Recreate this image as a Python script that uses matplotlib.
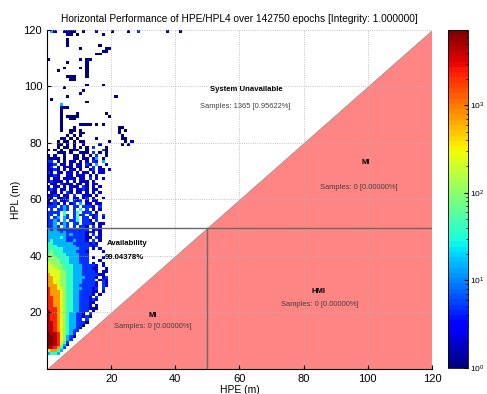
import numpy as np
import matplotlib
matplotlib.use('Agg')
import matplotlib.pyplot as plt
from matplotlib.colors import LogNorm

plt.rcParams['font.family'] = ['Liberation Sans', 'DejaVu Sans']

title = 'Horizontal Performance of HPE/HPL4 over 142750 epochs [Integrity: 1.000000]'
alert_limit = 50
axis_max = 120
ticks = [20, 40, 60, 80, 100, 120]

# level code -> epoch count per 1m x 1m cell ('.' = empty)
level_codes = '0123456789a'
level_counts = [1, 2, 5, 15, 40, 100, 250, 700, 2200, 4500, 7000]

# histogram rows, key = HPL bin (m), string index = HPE bin (m)
hist_rows = {
    119: ".31..0100..0...1....0....0..2........1...0",
    118: "......00.0.......0",
    116: "......0",
    115: "......0",
    114: "......0.........0",
    113: "..........0.......00",
    112: ".................00",
    111: "...............00",
    109: "0.........0.00",
    108: "......0.....0",
    107: "............0",
    106: ".....0....0.0",
    105: "...0........0",
    104: "............0",
    103: "......000...0",
    102: ".......00",
    100: "............0....0",
    99: ".....0",
    98: "...........0",
    97: "..........0",
    96: "......0..............0",
    95: ".0",
    94: "............0",
    93: "....3",
    92: "....100",
    91: "....0",
    90: "....0....0........0",
    89: "....0.0000.........0",
    88: "....0..00",
    87: "....0",
    86: "....0.....0000.0.0",
    85: "....0...0.............00",
    84: "....0..00.0...........0.0",
    83: ".......0..00..........0",
    82: "......0.0.0............0",
    81: "....00.0.0.....0.......00",
    80: "...0.00.0.00.......0....0.1",
    79: "...00.0.0..0....1......0.0",
    78: "...0.00.1.0.0.2...0",
    77: "0.0.0..010..0....20",
    76: "...000.0..100.2.0.0",
    75: "0.1..0..00.0.1.2..0",
    74: "1010.0..10.01.13.0",
    73: "22.1.1.11.1.1.21.3",
    72: "112.11.1.11.21.3..1",
    71: "12.1.111.11.1.2.1",
    70: "1121.1.11.1..12.11.1",
    69: "21.11.11.1.11.1.11",
    68: "1121..11.111.1.1",
    67: "1.11.1111.11.2.1.1",
    66: "12111.1.1.111.1",
    65: ".11.2111.11.1.11",
    64: "1.11.1.111.21.1.1",
    63: "121.11.1.1121.11",
    62: ".11.1.21.11.1.1.1",
    61: "1121.11.2..111.1",
    60: "21.1121.11.12.1..1",
    59: "1.2.112.212.1.11",
    58: "1121.1.12.3.11.11",
    57: "222.232.22.2221.2",
    56: ".2.2232.2.4.2.1.1",
    55: "2222.4..24.222.1",
    54: "22.2.42.2522.212.2",
    53: "2.23.32.24.22.12.1",
    52: "2232.3.224.221.2",
    51: "223.232.22.2221.11",
    50: "2232.32.2.221.2.1",
    49: "3232222222222.121",
    48: "333323222222121.1",
    47: "3333332322221.2.1",
    46: "33334322222211.21",
    45: "3433332232221.2.1",
    44: "4433333322222121",
    43: "4443333332222212",
    42: "4444433333222.1.1",
    41: "4544433332221....1",
    40: "5544443333222",
    39: "5554444333222.1..1",
    38: "5555444333222...1",
    37: "6555444333222.1..1",
    36: "6655544433322221.1",
    35: "6665544433322211..1",
    34: "6666554433322221.11",
    33: "766655443332222211",
    32: "7766554433332221.12",
    31: "776655443332222.121",
    30: "7766554433322221.21",
    29: "7776554433222221.21",
    28: "8776654433322212.2",
    27: "8777654433222211.1",
    26: "877765443322221.1",
    25: "88776544332221.2",
    24: "8877654433222121",
    23: "887765443322211",
    22: "88776544332221.1",
    21: "8887654433222110",
    20: "9887654433222.1",
    19: "988765433221.2",
    18: "98876543322120",
    17: "98876543322.2",
    16: "9987654332220",
    15: "998765433220",
    14: "99876543321",
    13: "9987654322",
    12: "a99865432",
    11: "aa9865321",
    10: "aa986532",
    9: "aa98642",
    8: "aa98531",
    7: "998742",
    6: "67743",
    5: "3443",
}

regions = [
    # (label, sample text, label pos, text pos)
    ('System Unavailable', 'Samples: 1365 [0.95622%]', (62, 98.9), (61.7, 92.9)),
    ('MI', 'Samples: 0 [0.00000%]', (99.4, 73.0), (97.2, 64.2)),
    ('MI', 'Samples: 0 [0.00000%]', (33.1, 18.8), (33.1, 14.9)),
    ('HMI', 'Samples: 0 [0.00000%]', (84.7, 27.3), (85.0, 22.7)),
]
availability = '99.04378%'

# build count grid
ncols = max(len(s) for s in hist_rows.values())
counts = np.zeros((axis_max, ncols))
for hpl, row in hist_rows.items():
    for i, ch in enumerate(row):
        if ch != '.':
            counts[hpl, i] = level_counts[level_codes.index(ch)]
counts = np.ma.masked_equal(counts, 0)

fig = plt.figure(figsize=(4.87, 3.94), dpi=100)
ax = fig.add_axes([0.0965, 0.0635, 0.7905, 0.8605])
cax = fig.add_axes([0.920, 0.066, 0.041, 0.858])

x_edges = np.arange(ncols + 1)
y_edges = np.arange(axis_max + 1)
cmap = plt.get_cmap('jet', 64)
mesh = ax.pcolormesh(x_edges, y_edges, counts, cmap=cmap,
                     norm=LogNorm(vmin=1, vmax=7250), zorder=2)

# integrity regions
ax.fill([0, axis_max, axis_max], [0, 0, axis_max], color='#ff8585',
        edgecolor='#909090', linewidth=0.5, zorder=1)
ax.plot([0, axis_max], [alert_limit, alert_limit], color='#6a6a6a', lw=1.0, zorder=3)
ax.plot([alert_limit, alert_limit], [0, alert_limit], color='#6a6a6a', lw=1.0, zorder=3)

for lab, txt, lp, tp in regions:
    ax.text(lp[0], lp[1], lab, fontsize=5.6, fontweight='bold', ha='center', va='center', zorder=4)
    ax.text(tp[0], tp[1], txt, fontsize=5.4, color='#404040', ha='center', va='center', zorder=4)
ax.text(18.75, 44.3, 'Availability', fontsize=5.6, fontweight='bold', ha='left', va='center', zorder=4)
ax.text(18.1, 39.4, availability, fontsize=5.6, fontweight='bold', ha='left', va='center', zorder=4)

ax.set_xlim(0, axis_max)
ax.set_ylim(0, axis_max)
ax.set_xticks(ticks)
ax.set_yticks(ticks)
ax.grid(True, linestyle=':', color='#b0b0b0', linewidth=0.6, zorder=5)
ax.set_axisbelow(False)
ax.spines['top'].set_visible(False)
ax.spines['right'].set_visible(False)
ax.tick_params(direction='in', length=3, labelsize=8)
ax.set_xlabel('HPE (m)', fontsize=7.5, labelpad=1)
ax.set_ylabel('HPL (m)', fontsize=7.5, labelpad=2)
ax.set_title(title, fontsize=7.3, pad=6)

cb = fig.colorbar(mesh, cax=cax)
cb.ax.tick_params(labelsize=6, direction='in', length=3, pad=1.5)
cb.ax.tick_params(which='minor', direction='in', length=1.5)
cb.outline.set_linewidth(0.6)

fig.savefig('out.png', dpi=100)
